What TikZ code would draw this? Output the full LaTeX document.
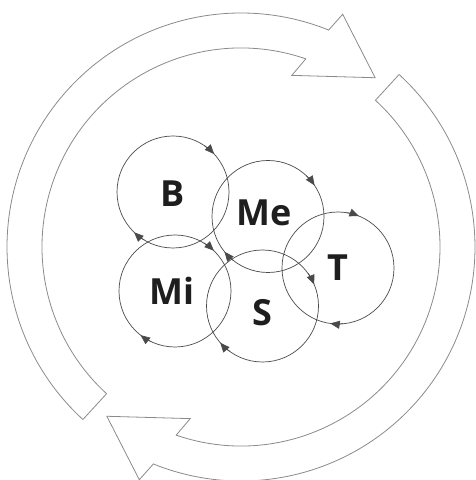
\documentclass[tikz,border=0pt]{standalone}
\usepackage{fontspec}
\setmainfont{Open Sans}
\usetikzlibrary{arrows.meta}
\definecolor{ringgray}{HTML}{8A8A8A}
\definecolor{cgray}{HTML}{4A4A4A}
\definecolor{txt}{HTML}{1E1E1E}
\tikzset{
  ring/.style={draw=ringgray, line width=0.8pt, line join=miter},
  cyc/.style={circle, draw=cgray, line width=0.7pt, minimum size=112pt, inner sep=0pt},
  lbl/.style={font=\fontsize{36}{40}\selectfont\bfseries, text=txt, inner sep=0pt},
  tip/.style={draw=cgray, line width=0.7pt, -{Triangle[length=9.5pt,width=8pt]}},
}
\begin{document}
\begin{tikzpicture}[x=1pt,y=1pt]
\useasboundingbox (0,0) rectangle (476,480);
\coordinate (O) at (241,233);
% big cycle arrows
\begin{scope}[shift={(O)}]
\draw[ring] (227.5:234) arc[start angle=227.5,end angle=68,radius=234]
  -- (66.4:254) -- (51.6:216) -- (73.5:179) -- (71:199)
  arc[start angle=71,end angle=227.5,radius=199] -- cycle;
\end{scope}
\begin{scope}[shift={(O)},rotate=180]
\draw[ring] (227.5:234) arc[start angle=227.5,end angle=68,radius=234]
  -- (66.4:254) -- (51.6:216) -- (73.5:179) -- (71:199)
  arc[start angle=71,end angle=227.5,radius=199] -- cycle;
\end{scope}
% circles
\node[cyc] (B) at (173,288) {};
\node[cyc] (Me) at (268,263.5) {};
\node[cyc] (T) at (338,212) {};
\node[cyc] (Mi) at (175,189) {};
\node[cyc] (S) at (262.5,174) {};
% arrowheads (clockwise)
\foreach \n/\a/\b in {B/45.7/229, Me/36.7/222, T/71/265, Mi/49/235, S/25.6/224}{
  \draw[tip] (\n.center) ++(\a+10:56) arc[start angle=\a+10,end angle=\a-3,radius=56];
  \draw[tip] (\n.center) ++(\b+10:56) arc[start angle=\b+10,end angle=\b-3,radius=56];
}
% labels
\node[lbl] (lB) at (173,286) {B};
\node[lbl] (lMe) at (264,267) {Me};
\node[lbl] (lT) at (338,212) {T};
\node[lbl] (lMi) at (172,189) {Mi};
\node[lbl] (lS) at (262,167) {S};
\end{tikzpicture}
\end{document}
